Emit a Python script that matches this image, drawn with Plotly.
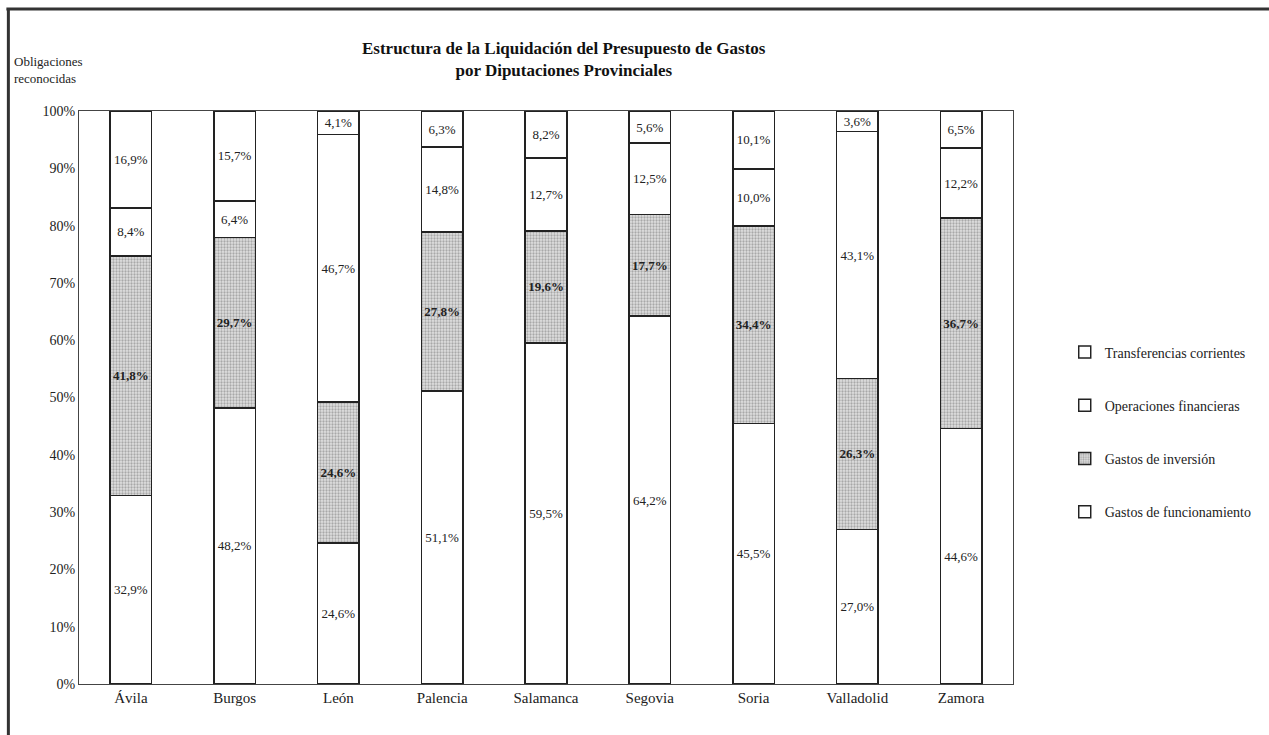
import plotly.graph_objects as go

# Provinces and shares (%) of recognised obligations by expense type
provincias = ["Ávila", "Burgos", "León", "Palencia", "Salamanca",
              "Segovia", "Soria", "Valladolid", "Zamora"]
funcionamiento = [32.9, 48.2, 24.6, 51.1, 59.5, 64.2, 45.5, 27.0, 44.6]
inversion = [41.8, 29.7, 24.6, 27.8, 19.6, 17.7, 34.4, 26.3, 36.7]
financieras = [8.4, 6.4, 46.7, 14.8, 12.7, 12.5, 10.0, 43.1, 12.2]
transferencias = [16.9, 15.7, 4.1, 6.3, 8.2, 5.6, 10.1, 3.6, 6.5]

series = [
    ("Gastos de funcionamiento", funcionamiento, False),
    ("Gastos de inversión", inversion, True),
    ("Operaciones financieras", financieras, False),
    ("Transferencias corrientes", transferencias, False),
]

FONT = "Liberation Serif, Times New Roman, serif"

W, H = 1269, 735
L, T, R, B = 79, 111, 251, 51
PW, PH = W - L - R, H - T - B


def px(x):
    # page x pixel -> paper coordinate
    return (x - L) / PW


def py(y):
    # page y pixel -> paper coordinate
    return 1 - (y - T) / PH


fig = go.Figure()
for i, (name, vals, patterned) in enumerate(series):
    text = [f"{v:.1f}%".replace(".", ",") for v in vals]
    if patterned:
        text = [f"<b>{t}</b>" for t in text]
        marker = dict(color="#dedede",
                      line=dict(color="#222", width=1.5),
                      pattern=dict(shape=".", fgcolor="#707070", bgcolor="#e0e0e0",
                                   size=3, solidity=0.45))
    else:
        marker = dict(color="white", line=dict(color="#222", width=1.5))
    fig.add_trace(go.Bar(
        x=provincias, y=vals, name=name, marker=marker,
        text=text, textposition="inside", insidetextanchor="middle",
        textangle=0, constraintext="none",
        textfont=dict(family=FONT, size=13, color="#222"),
        legendgroup=str(i), legendrank=len(series) - i,
        hoverinfo="skip"))

fig.update_layout(
    barmode="stack", bargap=0.6,
    width=W, height=H,
    margin=dict(l=L, r=R, t=T, b=B),
    paper_bgcolor="white", plot_bgcolor="white",
    font=dict(family=FONT, size=14, color="#222"),
    showlegend=True,
    legend=dict(x=px(1070), y=py(432), xanchor="left", yanchor="middle",
                traceorder="grouped", tracegroupgap=32,
                bgcolor="rgba(0,0,0,0)",
                font=dict(family=FONT, size=14, color="#222")),
    xaxis=dict(showline=True, linecolor="#444", linewidth=1, mirror=True,
               ticks="", tickfont=dict(size=15), showgrid=False),
    yaxis=dict(range=[0, 100], tickvals=list(range(0, 101, 10)),
               ticktext=[f"{v}%" for v in range(0, 101, 10)],
               showline=True, linecolor="#444", linewidth=1, mirror=True,
               showgrid=False, ticks="", tickfont=dict(size=14)),
)

# Title and axis caption
fig.add_annotation(x=px(567), y=py(60), xref="paper", yref="paper",
                   text="<b>Estructura de la Liquidación del Presupuesto de Gastos<br>por Diputaciones Provinciales</b>",
                   showarrow=False, font=dict(family=FONT, size=17, color="#111"),
                   xanchor="center", yanchor="middle", align="center")
fig.add_annotation(x=px(12), y=py(70), xref="paper", yref="paper",
                   text="Obligaciones<br>reconocidas", showarrow=False,
                   font=dict(family=FONT, size=13, color="#222"),
                   xanchor="left", yanchor="middle", align="left")

# Outer frame: only the top and left edges show in the picture
fig.add_shape(type="line", xref="paper", yref="paper",
              x0=px(6), x1=px(1300), y0=py(9), y1=py(9),
              line=dict(color="#333", width=3))
fig.add_shape(type="line", xref="paper", yref="paper",
              x0=px(8), x1=px(8), y0=py(9), y1=py(760),
              line=dict(color="#333", width=3))

# drop the default page margin so the figure sits at the window origin
fig.write_html("out.html", config={"displayModeBar": False},
               post_script="document.body.style.margin='0';")
